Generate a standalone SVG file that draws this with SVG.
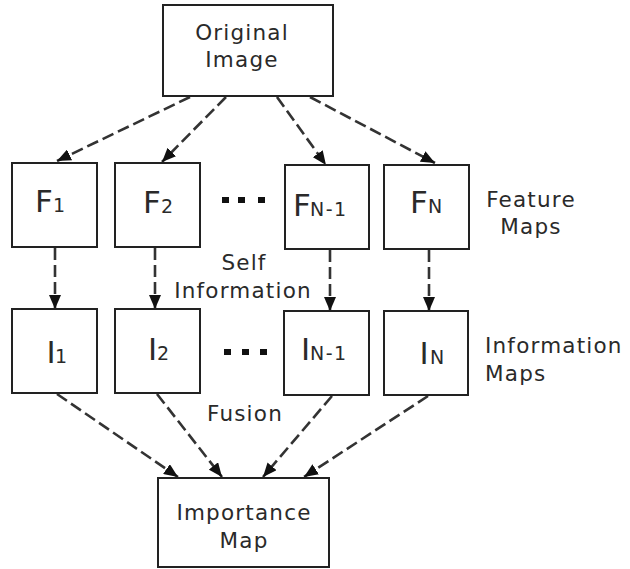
<svg xmlns="http://www.w3.org/2000/svg" width="630" height="569" viewBox="0 0 630 569">
<style>
.box{fill:#fff;stroke:#222;stroke-width:2}
.lbl{font-family:"DejaVu Sans",Verdana,sans-serif;font-size:21.5px;letter-spacing:1.2px;fill:#2a2a2a}
.big{font-family:"DejaVu Sans",Verdana,sans-serif;font-size:31px;fill:#2a2a2a}
.sub{font-size:19px;letter-spacing:1.5px}
.c{text-anchor:middle}
.conn{fill:none;stroke:#333;stroke-width:2.6;stroke-dasharray:12 5;marker-end:url(#ah)}
.dot{fill:#111}
</style>
<defs>
<marker id="ah" markerUnits="userSpaceOnUse" markerWidth="14" markerHeight="12" refX="14" refY="6" orient="auto" viewBox="0 0 14 12">
<path d="M0,0 L14,6 L0,12 z" fill="#111"/>
</marker>
</defs>
<g id="connectors">
<line class="conn" x1="190" y1="97" x2="57" y2="161"/>
<line class="conn" x1="226" y1="97" x2="162" y2="162"/>
<line class="conn" x1="277" y1="97" x2="326" y2="165"/>
<line class="conn" x1="310" y1="97" x2="435" y2="163"/>
<line class="conn" x1="55" y1="248" x2="55" y2="309"/>
<line class="conn" x1="155" y1="248" x2="155" y2="309"/>
<line class="conn" x1="330" y1="250" x2="330" y2="311"/>
<line class="conn" x1="429" y1="250" x2="429" y2="311"/>
<line class="conn" x1="57" y1="394" x2="178" y2="477"/>
<line class="conn" x1="157" y1="394" x2="222" y2="477"/>
<line class="conn" x1="332" y1="396" x2="263" y2="477"/>
<line class="conn" x1="428" y1="396" x2="304" y2="477"/>
</g>
<g id="original">
<rect class="box" x="163" y="5" width="170" height="91"/>
<text class="lbl c" x="242" y="40">Original</text>
<text class="lbl c" x="242" y="67">Image</text>
</g>
<g id="f1">
<rect class="box" x="12" y="163" width="85" height="84"/>
<text class="big" x="35" y="212">F<tspan class="sub" x="53">1</tspan></text>
</g>
<g id="f2">
<rect class="box" x="115" y="163" width="85" height="84"/>
<text class="big" x="143" y="213">F<tspan class="sub" x="161">2</tspan></text>
</g>
<g id="fn1">
<rect class="box" x="285" y="165" width="84" height="84"/>
<text class="big" x="293" y="216">F<tspan class="sub" x="310">N-1</tspan></text>
</g>
<g id="fn">
<rect class="box" x="384" y="165" width="85" height="84"/>
<text class="big" x="410" y="213">F<tspan class="sub" x="428">N</tspan></text>
</g>
<g id="dots1">
<rect class="dot" x="222" y="197" width="7" height="6"/>
<rect class="dot" x="238" y="197" width="7" height="6"/>
<rect class="dot" x="258" y="197" width="7" height="6"/>
</g>
<g id="i1">
<rect class="box" x="12" y="309" width="85" height="84"/>
<text class="big" x="46.5" y="363">I<tspan class="sub" x="55">1</tspan></text>
</g>
<g id="i2">
<rect class="box" x="115" y="309" width="85" height="84"/>
<text class="big" x="148" y="360">I<tspan class="sub" x="157">2</tspan></text>
</g>
<g id="in1">
<rect class="box" x="284" y="311" width="85" height="84"/>
<text class="big" x="301" y="360">I<tspan class="sub" x="310">N-1</tspan></text>
</g>
<g id="in">
<rect class="box" x="384" y="311" width="84" height="84"/>
<text class="big" x="419.5" y="364">I<tspan class="sub" x="430">N</tspan></text>
</g>
<g id="dots2">
<rect class="dot" x="224" y="349" width="7" height="6"/>
<rect class="dot" x="242" y="349" width="7" height="6"/>
<rect class="dot" x="260" y="349" width="7" height="6"/>
</g>
<g id="importance">
<rect class="box" x="158" y="478" width="171" height="89"/>
<text class="lbl c" x="244" y="520">Importance</text>
<text class="lbl c" x="244" y="548">Map</text>
</g>
<g id="labels">
<text class="lbl c" x="244" y="270">Self</text>
<text class="lbl c" x="243" y="298">Information</text>
<text class="lbl" x="207" y="421">Fusion</text>
<text class="lbl c" x="531" y="207">Feature</text>
<text class="lbl c" x="531" y="234">Maps</text>
<text class="lbl" x="485" y="353">Information</text>
<text class="lbl" x="485" y="381">Maps</text>
</g>
</svg>
